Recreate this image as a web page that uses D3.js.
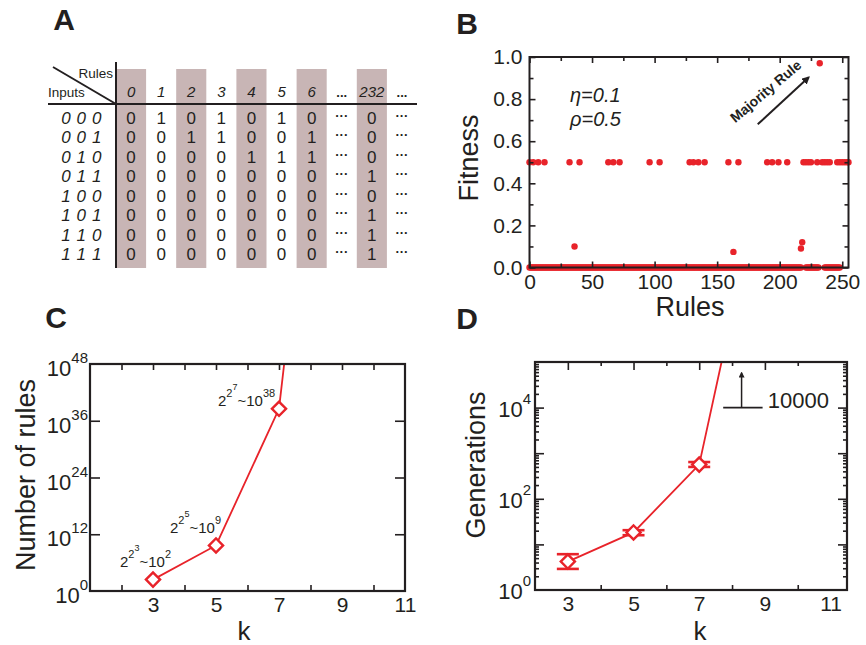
<!DOCTYPE html>
<html>
<head>
<meta charset="utf-8">
<script src="https://cdn.jsdelivr.net/npm/d3@7"></script>
<style>
body { margin: 0; background: #fff; }
text { font-family: "Liberation Sans", Arial, sans-serif; fill: #231f20; }
.axis path.domain { display: none; }
.axis line { stroke-width: 1.6; }
</style>
</head>
<body>
<div class="main"></div>
<script>
const WIDTH = 866;
const HEIGHT = 645;
const INK = "#231f20";
const RED = "#e8232a";
const SHADE = "#c8b5b5";

// ---- panel A : rule table
const ruleCols = ["0", "1", "2", "3", "4", "5", "6", "...", "232", "..."];
const inputRows = ["0 0 0", "0 0 1", "0 1 0", "0 1 1", "1 0 0", "1 0 1", "1 1 0", "1 1 1"];
const ruleOutputs = [
    [0, 0, 0, 0, 0, 0, 0, 0],
    [1, 0, 0, 0, 0, 0, 0, 0],
    [0, 1, 0, 0, 0, 0, 0, 0],
    [1, 1, 0, 0, 0, 0, 0, 0],
    [0, 0, 1, 0, 0, 0, 0, 0],
    [1, 0, 1, 0, 0, 0, 0, 0],
    [0, 1, 1, 0, 0, 0, 0, 0],
    null,
    [0, 0, 0, 1, 0, 1, 1, 1],
    null
];

// ---- panel B : fitness of each rule
const halfFitnessRules = [0, 3, 7, 12, 32, 40, 63, 67, 72, 96, 104, 128, 131, 135, 140,
    159, 167, 190, 194, 199, 206, 219, 221, 223, 225, 230, 234, 236, 238, 240,
    246, 248, 250, 252, 254, 255];
const zeroFitnessRanges = [[0, 217], [221, 231], [236, 248]];
const otherRules = [36, 163, 217, 218, 232];
const otherFitness = [0.10, 0.074, 0.09, 0.12, 0.97];
const bXTicks = [0, 50, 100, 150, 200, 250];
const bYTicks = [0, 0.2, 0.4, 0.6, 0.8, 1.0];

// ---- panel C : number of rules vs k
const cK = [3, 5, 7, 9];
const cRules = [256, 4.29e9, 3.40e38, 1.34e154];
const cNotes = [["2", "3", "2"], ["2", "5", "9"], ["2", "7", "38"]];

// ---- panel D : generations vs k
const dK = [3, 5, 7, 9];
const dGen = [4.2, 18.3, 562, 2.3e9];
const dGenLow = [2.9, 15.9, 500];
const dGenHigh = [6.1, 20.5, 640];
const kTickLabels = [3, 5, 7, 9, 11];

var main = d3.select(".main");
var svg = main.append("svg")
    .attr("width", WIDTH)
    .attr("height", HEIGHT);
svg.append("rect").attr("width", WIDTH).attr("height", HEIGHT).attr("fill", "#fff");

var defs = svg.append("defs");
defs.append("marker")
    .attr("id", "arrow")
    .attr("viewBox", "0 0 10 10")
    .attr("refX", 8).attr("refY", 5)
    .attr("markerWidth", 4).attr("markerHeight", 4)
    .attr("orient", "auto")
    .append("path").attr("d", "M0,0L10,5L0,10z").attr("fill", INK);

// panel letters
[["A", 64, 30], ["B", 467, 34], ["C", 56, 328], ["D", 467, 329]].forEach(p => {
    svg.append("text").text(p[0])
        .attr("x", p[1]).attr("y", p[2])
        .attr("text-anchor", "middle")
        .style("font-size", "30px").style("font-weight", "bold");
});

function addAxis(g, gen, transform, values, len, fmt, pad, fs) {
    var a = g.append("g")
        .attr("class", "axis")
        .attr("color", INK)
        .attr("transform", transform)
        .call(gen.tickValues(values)
            .tickSizeInner(-len)
            .tickSizeOuter(0)
            .tickPadding(pad || 0)
            .tickFormat(fmt || (() => "")));
    a.selectAll("text").style("font-size", (fs || 20) + "px");
    return a;
}

function frame(g, x0, y0, x1, y1, w) {
    g.append("rect")
        .attr("x", x0).attr("y", y0)
        .attr("width", x1 - x0).attr("height", y1 - y0)
        .attr("fill", "none").attr("stroke", INK).attr("stroke-width", w);
}

function diamond(g, x, y) {
    g.append("path")
        .attr("d", d3.symbol(d3.symbolSquare, 100)())
        .attr("transform", `translate(${x},${y}) rotate(45)`)
        .attr("fill", "#fff").attr("stroke", RED).attr("stroke-width", 2.4);
}

// ================= panel A
var gA = svg.append("g");
var colX = d3.scaleBand().domain(d3.range(ruleCols.length)).range([116, 417]);
var rowY = d3.scalePoint().domain(inputRows).range([124, 260]);

gA.selectAll(".shade")
    .data(d3.range(ruleCols.length).filter(i => i % 2 === 0))
    .join("rect")
    .attr("x", i => colX(i)).attr("y", 69)
    .attr("width", colX.bandwidth()).attr("height", 199)
    .attr("fill", SHADE);

gA.selectAll(".head")
    .data(ruleCols)
    .join("text")
    .attr("x", (d, i) => colX(i) + colX.bandwidth() / 2)
    .attr("y", 97)
    .attr("text-anchor", "middle")
    .style("font-size", d => d === "..." ? "13px" : "15px")
    .style("font-style", d => d === "..." ? "normal" : "italic")
    .style("font-weight", d => d === "..." ? "bold" : "normal")
    .text(d => d);

gA.selectAll(".rowlab")
    .data(inputRows)
    .join("text")
    .attr("x", 102).attr("y", d => rowY(d))
    .attr("text-anchor", "end")
    .style("font-size", "17px").style("font-style", "italic")
    .style("letter-spacing", "0.6px")
    .text(d => d);

ruleOutputs.forEach((col, i) => {
    inputRows.forEach((row, r) => {
        gA.append("text")
            .attr("x", colX(i) + colX.bandwidth() / 2)
            .attr("y", rowY(row) - (col ? 0 : 4))
            .attr("text-anchor", "middle")
            .style("font-size", col ? "17px" : "13px")
            .style("font-weight", col ? "normal" : "bold")
            .text(col ? col[r] : "\u00b7\u00b7\u00b7");
    });
});

gA.append("line").attr("x1", 116).attr("y1", 62).attr("x2", 116).attr("y2", 268)
    .attr("stroke", INK).attr("stroke-width", 2);
gA.append("line").attr("x1", 48).attr("y1", 104).attr("x2", 417).attr("y2", 104)
    .attr("stroke", INK).attr("stroke-width", 2);
gA.append("line").attr("x1", 53).attr("y1", 67).attr("x2", 116).attr("y2", 104)
    .attr("stroke", INK).attr("stroke-width", 2);
gA.append("text").text("Rules").attr("x", 113).attr("y", 78)
    .attr("text-anchor", "end").style("font-size", "13.5px");
gA.append("text").text("Inputs").attr("x", 48).attr("y", 97)
    .style("font-size", "13.5px");

// ================= panel B
var gB = svg.append("g");
var xB = d3.scaleLinear([0, 255], [529.5, 848.5]);
var yB = d3.scaleLinear([0, 1], [267.5, 57]);

var bPoints = [];
zeroFitnessRanges.forEach(r => d3.range(r[0], r[1] + 1).forEach(rule => bPoints.push([rule, 0])));
halfFitnessRules.forEach(rule => bPoints.push([rule, 0.5]));
otherRules.forEach((rule, i) => bPoints.push([rule, otherFitness[i]]));

gB.selectAll(".dot")
    .data(bPoints)
    .join("circle")
    .attr("cx", d => xB(d[0]))
    .attr("cy", d => yB(d[1]))
    .attr("r", 3.2)
    .attr("fill", RED);

addAxis(gB, d3.axisLeft(yB), "translate(529.5,0)", bYTicks, 6, d3.format(".1f"), 7, 21);
addAxis(gB, d3.axisLeft(yB), "translate(529.5,0)", [0.1, 0.3, 0.5, 0.7, 0.9], 4);
addAxis(gB, d3.axisRight(yB), "translate(848.5,0)", bYTicks, 6);
addAxis(gB, d3.axisRight(yB), "translate(848.5,0)", [0.1, 0.3, 0.5, 0.7, 0.9], 4);
addAxis(gB, d3.axisBottom(xB), "translate(0,267.5)", bXTicks, 6, d3.format("d"), 7, 21);
addAxis(gB, d3.axisBottom(xB), "translate(0,267.5)", [25, 75, 125, 175, 225], 4);
addAxis(gB, d3.axisTop(xB), "translate(0,57)", bXTicks, 6);
addAxis(gB, d3.axisTop(xB), "translate(0,57)", [25, 75, 125, 175, 225], 4);
frame(gB, 529.5, 57, 848.5, 267.5, 2);

gB.append("text").text("Fitness")
    .attr("transform", "translate(478,158) rotate(-90)")
    .attr("text-anchor", "middle").style("font-size", "27px");
gB.append("text").text("Rules")
    .attr("x", 690).attr("y", 316)
    .attr("text-anchor", "middle").style("font-size", "27px");
gB.append("text").text("\u03b7=0.1").attr("x", 570).attr("y", 102)
    .style("font-size", "20px").style("font-style", "italic");
gB.append("text").text("\u03c1=0.5").attr("x", 570).attr("y", 126)
    .style("font-size", "20px").style("font-style", "italic");

var mx = xB(232), my = yB(0.97);
gB.append("line")
    .attr("x1", mx - 62).attr("y1", my + 61)
    .attr("x2", mx - 11).attr("y2", my + 14)
    .attr("stroke", INK).attr("stroke-width", 2)
    .attr("marker-end", "url(#arrow)");
gB.append("text").text("Majority Rule")
    .attr("transform", `translate(${mx - 54},${my + 28}) rotate(-40)`)
    .attr("text-anchor", "middle").attr("dy", "0.35em")
    .style("font-size", "14px").style("font-weight", "bold");

// ================= panel C
var gC = svg.append("g");
var xC = d3.scaleLinear([1, 11], [90, 405]);
var yC = d3.scaleLog([1, 1e48], [591, 364]);

defs.append("clipPath").attr("id", "clipC")
    .append("rect").attr("x", 90).attr("y", 364).attr("width", 315).attr("height", 227);

gC.append("path")
    .datum(cK.map((k, i) => [k, cRules[i]]))
    .attr("clip-path", "url(#clipC)")
    .attr("fill", "none").attr("stroke", RED).attr("stroke-width", 1.8)
    .attr("d", d3.line().x(d => xC(d[0])).y(d => yC(d[1])));

cNotes.forEach((n, i) => diamond(gC, xC(cK[i]), yC(cRules[i])));

var noteOffsets = [[-33, -13], [-46, -12], [-61, -3]];
cNotes.forEach((n, i) => {
    var t = gC.append("text")
        .attr("x", xC(cK[i]) + noteOffsets[i][0])
        .attr("y", yC(cRules[i]) + noteOffsets[i][1])
        .style("font-size", "15px");
    t.append("tspan").text(n[0]);
    t.append("tspan").text("2").attr("dy", -9).style("font-size", "11px");
    t.append("tspan").text(n[1]).attr("dy", -7).style("font-size", "9px");
    t.append("tspan").text("~10").attr("dy", 16).style("font-size", "15px");
    t.append("tspan").text(n[2]).attr("dy", -9).style("font-size", "11px");
});

var cDecades = [1e12, 1e24, 1e36];
addAxis(gC, d3.axisLeft(yC), "translate(90,0)", cDecades, 10);
addAxis(gC, d3.axisRight(yC), "translate(405,0)", cDecades, 10);
addAxis(gC, d3.axisTop(xC), "translate(0,364)", d3.range(2, 11), 6);
addAxis(gC, d3.axisBottom(xC), "translate(0,591)", [2, 4, 6, 8, 10], 6);
addAxis(gC, d3.axisBottom(xC), "translate(0,591)", kTickLabels, 0, d3.format("d"), 6, 21);
frame(gC, 90, 364, 405, 591, 2.2);

[0, 12, 24, 36, 48].forEach(e => {
    var t = gC.append("text")
        .attr("x", 88).attr("y", yC(Math.pow(10, e)) + 12)
        .attr("text-anchor", "end")
        .style("font-size", "22px");
    t.append("tspan").text("10");
    t.append("tspan").text(e).attr("dy", -13).style("font-size", "15px");
});

gC.append("text").text("Number of rules")
    .attr("transform", "translate(35,475) rotate(-90)")
    .attr("text-anchor", "middle").style("font-size", "27px");
gC.append("text").text("k")
    .attr("x", 244).attr("y", 640)
    .attr("text-anchor", "middle").style("font-size", "26px");

// ================= panel D
var gD = svg.append("g");
var xD = d3.scaleLinear([2, 11.5], [535, 847]);
var yD = d3.scaleLog([1, 1e5], [590, 362]);

defs.append("clipPath").attr("id", "clipD")
    .append("rect").attr("x", 535).attr("y", 362).attr("width", 312).attr("height", 228);

gD.append("path")
    .datum(dK.map((k, i) => [k, dGen[i]]))
    .attr("clip-path", "url(#clipD)")
    .attr("fill", "none").attr("stroke", RED).attr("stroke-width", 1.8)
    .attr("d", d3.line().x(d => xD(d[0])).y(d => yD(d[1])));

dGenLow.forEach((lo, i) => {
    var x = xD(dK[i]);
    gD.append("line").attr("x1", x).attr("x2", x)
        .attr("y1", yD(lo)).attr("y2", yD(dGenHigh[i]))
        .attr("stroke", RED).attr("stroke-width", 2);
    [lo, dGenHigh[i]].forEach(v => {
        gD.append("line").attr("x1", x - 11).attr("x2", x + 11)
            .attr("y1", yD(v)).attr("y2", yD(v))
            .attr("stroke", RED).attr("stroke-width", 2.6);
    });
    diamond(gD, x, yD(dGen[i]));
});

var dMajor = [10, 100, 1000, 10000];
var dMinor = [];
[1, 10, 100, 1000, 10000].forEach(b => d3.range(2, 10).forEach(m => dMinor.push(b * m)));
addAxis(gD, d3.axisLeft(yD), "translate(535,0)", dMajor, 9);
addAxis(gD, d3.axisLeft(yD), "translate(535,0)", dMinor, 4);
addAxis(gD, d3.axisRight(yD), "translate(847,0)", dMajor, 9);
addAxis(gD, d3.axisRight(yD), "translate(847,0)", dMinor, 4);
addAxis(gD, d3.axisTop(xD), "translate(0,362)", [3, 5, 7, 9], 8);
addAxis(gD, d3.axisTop(xD), "translate(0,362)", [4, 6, 8, 10], 4);
addAxis(gD, d3.axisBottom(xD), "translate(0,590)", [4, 6, 8, 10], 5);
addAxis(gD, d3.axisBottom(xD), "translate(0,590)", kTickLabels, 0, d3.format("d"), 6, 21);
frame(gD, 535, 362, 847, 590, 2.2);

[0, 2, 4].forEach(e => {
    var t = gD.append("text")
        .attr("x", 531).attr("y", yD(Math.pow(10, e)) + 9)
        .attr("text-anchor", "end")
        .style("font-size", "22px");
    t.append("tspan").text("10");
    t.append("tspan").text(e).attr("dy", -13).style("font-size", "15px");
});

// 10000 cut-off note
var capY = yD(10000);
gD.append("line").attr("x1", xD(7.73)).attr("x2", xD(8.93))
    .attr("y1", capY).attr("y2", capY)
    .attr("stroke", INK).attr("stroke-width", 1.8);
gD.append("line").attr("x1", xD(8.29)).attr("x2", xD(8.29))
    .attr("y1", capY).attr("y2", yD(58000))
    .attr("stroke", INK).attr("stroke-width", 1.5)
    .attr("marker-end", "url(#arrow)");
gD.append("text").text("10000")
    .attr("x", xD(9.09)).attr("y", capY)
    .style("font-size", "22px");

gD.append("text").text("Generations")
    .attr("transform", "translate(485,465) rotate(-90)")
    .attr("text-anchor", "middle").style("font-size", "27px");
gD.append("text").text("k")
    .attr("x", 700).attr("y", 640)
    .attr("text-anchor", "middle").style("font-size", "26px");
</script>
</body>
</html>
